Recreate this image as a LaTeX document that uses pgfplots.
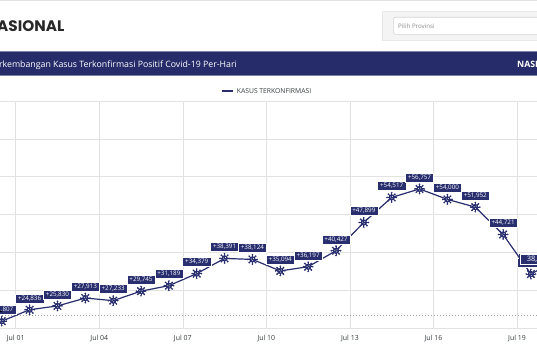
\documentclass[border=0pt]{standalone}
\usepackage{pgfplots}
\pgfplotsset{compat=1.18}
\usepackage{fontspec}
\setmainfont{Open Sans}
\newfontfamily\poppins{Poppins}
\definecolor{navy}{RGB}{40,46,110}
\definecolor{banner}{RGB}{38,44,106}
\definecolor{gridc}{RGB}{226,226,226}
\definecolor{tickc}{RGB}{55,61,63}
\definecolor{titlec}{RGB}{40,40,40}

\pgfdeclareplotmark{virus}{%
  \pgfscope
  \pgfsetlinewidth{0.9bp}%
  \foreach \a in {0,45,...,315}{%
    \pgfpathmoveto{\pgfpointpolar{\a}{2.5bp}}%
    \pgfpathlineto{\pgfpointpolar{\a}{4.3bp}}%
    \pgfusepath{stroke}%
    \pgfpathcircle{\pgfpointpolar{\a}{4.6bp}}{0.95bp}%
    \pgfusepath{fill}%
  }%
  \pgfpathcircle{\pgfpointorigin}{3.2bp}%
  \pgfusepath{fill}%
  \pgfsetfillcolor{white}%
  \pgfpathcircle{\pgfpoint{1bp}{0.9bp}}{0.5bp}%
  \pgfpathcircle{\pgfpoint{-1.1bp}{0.4bp}}{0.5bp}%
  \pgfpathcircle{\pgfpoint{0.3bp}{-1.2bp}}{0.5bp}%
  \pgfusepath{fill}%
  \endpgfscope
}

\begin{document}
\begin{tikzpicture}[x=1bp,y=1bp]
\clip (0,0) rectangle (537,360);
\fill[white] (0,0) rectangle (537,360);
% top line
\draw[gridc, line width=1.2bp, overlay] (0,359.4) -- (537,359.4);
% title
\node[overlay, anchor=base east, inner sep=0, font=\poppins\bfseries\fontsize{15.3}{17}\selectfont, text=titlec] at (64.5,328.3) {NASIONAL};
% search box
\filldraw[overlay, fill={rgb,255:red,244;green,244;blue,244}, draw={rgb,255:red,232;green,232;blue,232}, line width=0.6bp] (382,319.3) rectangle (545,349);
\filldraw[overlay, fill=white, draw={rgb,255:red,212;green,212;blue,212}, line width=0.6bp, rounded corners=1.5bp] (393.3,325.7) rectangle (550,342.7);
\node[overlay, anchor=west, inner sep=0, font=\fontsize{6.2}{7}\selectfont, text={rgb,255:red,140;green,140;blue,140}] at (398,334) {Pilih Provinsi};
% banner
\filldraw[overlay, fill=banner, draw=navy!60!white, line width=0.6bp] (-5,285) rectangle (545,309);
\node[overlay, anchor=base east, inner sep=0, font=\fontsize{8.8}{10}\selectfont, text=white] at (237,293) {Perkembangan Kasus Terkonfirmasi Positif Covid-19 Per-Hari};
\node[overlay, anchor=base west, inner sep=0, font=\bfseries\fontsize{8.8}{10}\selectfont, text=white] at (517,293) {NASIONAL};
% legend
\draw[navy, line width=1.1bp] (221.7,269) -- (233.3,269);
\node[anchor=west, inner sep=0, font=\fontsize{6.8}{8}\selectfont, text=tickc] at (236.7,269) {KASUS TERKONFIRMASI};

\begin{axis}[at={(0bp,32bp)}, anchor=south west, scale only axis,
  width=537bp, height=227bp,
  xmin=0.4363, xmax=19.718, ymin=20000, ymax=80000,
  axis line style={draw=none}, clip=false,
  xtick={1,4,7,10,13,16,19},
  xticklabels={Jul 01,Jul 04,Jul 07,Jul 10,Jul 13,Jul 16,Jul 19},
  ytick={20000,30000,40000,50000,60000,70000,80000}, yticklabels={},
  scaled y ticks=false,
  major tick length=0pt,
  grid=major, grid style={gridc, line width=0.6bp},
  xticklabel style={font=\fontsize{7}{8}\selectfont, text=tickc, anchor=center, yshift=-10bp},
]
\addplot[overlay, draw={rgb,255:red,160;green,160;blue,160}, line width=0.7bp, dash pattern=on 1.2bp off 1.8bp] coordinates {(0.3,23400) (20,23400)};
\addplot[overlay, navy, line width=1.2bp, mark=virus, mark options={fill=navy, draw=navy, solid},
  point meta=explicit,
  nodes near coords={+\pgfmathprintnumber[fixed, precision=0, 1000 sep={,}, assume math mode=true]{\pgfplotspointmeta}},
  every node near coord/.style={overlay, fill=navy, draw=white, line width=0.4bp, text=white,
    inner xsep=2.6bp, inner ysep=1.8bp, text height=4.5bp, text depth=0.9bp,
    font=\fontsize{6.3}{7}\selectfont, anchor=center, yshift=11.5bp},
] table[meta index=2] {
x y m
0.5 21807 21807
1.5 24836 24836
2.5 25830 25830
3.5 27913 27913
4.5 27233 27233
5.5 29745 29745
6.5 31189 31189
7.5 34379 34379
8.5 38391 38391
9.5 38124 38124
10.5 35094 35094
11.5 36197 36197
12.5 40427 40427
13.5 47899 47899
14.5 54517 54517
15.5 56757 56757
16.5 54000 54000
17.5 51952 51952
18.5 44721 44721
19.5 34257 34257
20.5 38325 38325
};
\coordinate (p19) at (axis cs:19.5,34257);
\end{axis}
% left-edge crosshair tick
\fill[black] (0,47.6) rectangle (2.4,48.6);
% tooltip at Jul 19
\begin{scope}[shift={(p19)}, overlay]
\fill[navy] (-11.5,8.5) rectangle (25,20.5);
\draw[white, line width=0.6bp] (-10.3,9.7) rectangle (24,19.3);
\node[anchor=west, inner sep=0, text=white, font=\fontsize{7.5}{8}\selectfont] at (-4.2,14.3) {38,325};
\end{scope}
\end{tikzpicture}
\end{document}
